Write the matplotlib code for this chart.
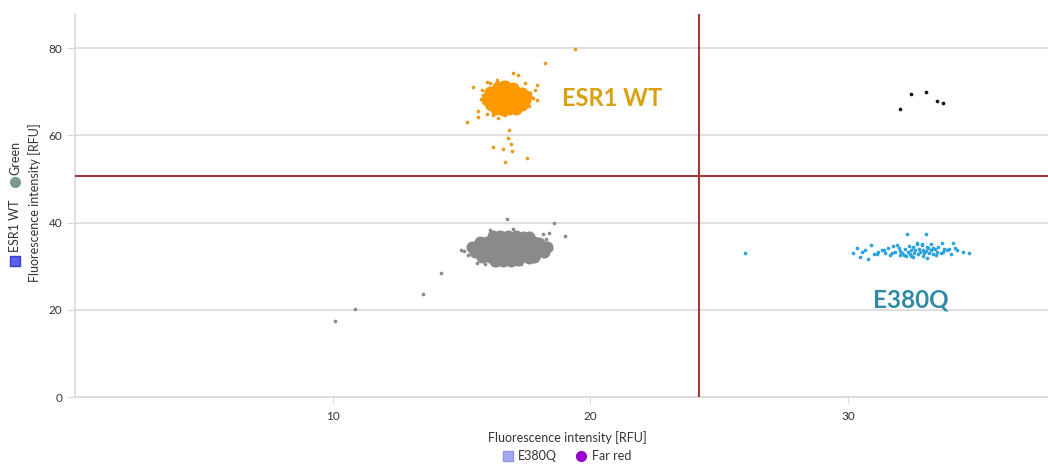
import matplotlib
matplotlib.use("Agg")
import matplotlib.pyplot as plt
from matplotlib.lines import Line2D

plt.rcParams['font.family'] = ['Lato', 'DejaVu Sans']

# ---------------- data ----------------
# ESR1 WT (orange) dense core
wt_core_x = [16.4, 16.7, 17.0,
             16.1, 16.35, 16.6, 16.85, 17.1, 17.35,
             16.05, 16.3, 16.55, 16.8, 17.05, 17.3, 17.5,
             16.0, 16.25, 16.5, 16.75, 17.0, 17.25, 17.45,
             16.15, 16.4, 16.65, 16.9, 17.15, 17.35,
             16.35, 16.6, 16.85, 17.1]
wt_core_y = [71.0, 71.2, 70.9,
             70.0, 70.1, 69.9, 70.2, 70.0, 69.8,
             69.0, 69.1, 68.9, 69.0, 69.2, 68.9, 69.0,
             68.0, 67.9, 68.1, 68.0, 67.9, 68.1, 68.0,
             67.0, 67.1, 66.9, 67.0, 67.1, 67.0,
             66.0, 65.9, 66.1, 66.0]
# ESR1 WT scattered points
wt_x = [19.4, 18.25, 17.0, 17.2, 15.43, 15.22, 15.65, 15.63, 15.97, 16.82,
        16.79, 16.92, 16.23, 16.62, 16.95, 16.69, 17.55, 17.92, 17.85, 17.92,
        17.78, 17.66, 16.1, 16.36, 16.56, 15.84, 15.91, 15.97, 16.23, 16.43,
        16.69, 16.88, 17.45, 17.6, 15.75, 15.8, 16.0]
wt_y = [79.8, 76.6, 74.2, 73.8, 71.0, 63.1, 64.1, 65.6, 64.9, 61.3,
        59.4, 58.1, 57.2, 56.8, 56.5, 53.9, 54.8, 71.5, 70.4, 68.1,
        68.5, 69.6, 71.9, 72.7, 72.3, 69.2, 67.7, 66.5, 64.6, 63.9,
        64.6, 65.4, 72.0, 66.8, 68.4, 70.3, 72.2]

# Negative population (grey) dense core
neg_core_x = [16.2, 16.5, 16.8, 17.1, 17.4, 17.6,
              15.7, 16.0, 16.3, 16.6, 16.9, 17.2, 17.5, 17.8, 18.0,
              15.4, 15.7, 16.0, 16.3, 16.6, 16.9, 17.2, 17.5, 17.8, 18.1, 18.3,
              15.5, 15.8, 16.1, 16.4, 16.7, 17.0, 17.3, 17.6, 17.9, 18.2,
              15.8, 16.1, 16.4, 16.7, 17.0, 17.3, 17.6, 17.8,
              16.3, 16.6, 16.9, 17.2]
neg_core_y = [36.8, 36.9, 37.0, 36.8, 36.7, 36.6,
              35.6, 35.5, 35.7, 35.6, 35.5, 35.6, 35.7, 35.5, 35.4,
              34.4, 34.3, 34.5, 34.4, 34.3, 34.5, 34.4, 34.3, 34.5, 34.4, 34.3,
              33.2, 33.1, 33.3, 33.2, 33.1, 33.2, 33.3, 33.2, 33.1, 33.3,
              32.0, 32.1, 31.9, 32.0, 32.1, 32.0, 31.9, 32.2,
              31.2, 31.1, 31.2, 31.3]
# Negative population scattered points
neg_x = [14.98, 15.1, 16.1, 16.17, 17.0, 17.66, 18.16, 18.4, 18.28, 18.3,
         15.59, 15.91, 16.36, 16.95, 16.75, 18.6, 19.0, 14.2, 13.49, 10.87,
         10.08, 15.25, 18.45, 17.3]
neg_y = [33.7, 33.5, 38.3, 37.5, 38.5, 37.7, 37.4, 37.7, 36.2, 35.3,
         30.8, 30.5, 30.3, 30.6, 40.7, 39.8, 37.0, 28.5, 23.7, 20.1,
         17.5, 32.6, 34.0, 30.6]

# E380Q (blue)
mut_x = [30.2, 30.33, 30.46, 30.66, 30.78, 30.88, 30.98, 31.17, 31.3, 31.43,
         31.56, 31.62, 31.75, 31.82, 31.95, 32.01, 32.27, 33.0, 32.66, 32.85,
         33.05, 33.3, 33.63, 33.69, 33.82, 34.08, 34.15, 34.21, 34.45, 34.67,
         33.05, 32.53,
         32.0, 32.1, 32.2, 32.3, 32.4, 32.45, 32.5, 32.55, 32.6, 32.7,
         32.75, 32.8, 32.9, 32.95, 33.0, 33.1, 33.15, 33.2, 33.3, 33.35,
         33.45, 33.5, 32.35, 32.65, 32.85, 33.2, 31.9, 32.15, 33.6, 33.7,
         31.4, 31.7, 32.25, 32.45, 32.9, 33.4, 33.9, 34.0, 31.1, 30.55,
         26.0]
mut_y = [33.1, 34.1, 32.2, 33.7, 31.6, 34.8, 32.8, 33.3, 33.7, 32.9,
         34.1, 32.5, 34.6, 33.3, 34.1, 32.5, 37.4, 37.4, 35.4, 34.8,
         34.5, 34.1, 35.2, 33.3, 33.7, 35.2, 34.1, 33.7, 33.3, 32.9,
         31.8, 32.2,
         33.5, 33.0, 34.0, 33.3, 32.8, 33.8, 34.3, 33.1, 33.6, 32.7,
         34.0, 33.3, 33.8, 32.9, 33.5, 34.2, 33.0, 33.6, 32.8, 33.9,
         33.3, 34.4, 34.6, 35.0, 35.0, 35.0, 34.8, 32.6, 32.9, 34.0,
         33.6, 33.0, 32.4, 32.3, 32.4, 32.6, 33.9, 32.8, 32.7, 33.2,
         33.0]

# Double positive (black)
dp_x = [32.0, 32.44, 33.0, 33.45, 33.68]
dp_y = [66.0, 69.5, 70.0, 67.8, 67.5]

x_thr = 24.2
y_thr = 50.7
x_ticks = [10, 20, 30]
y_ticks = [0, 20, 40, 60, 80]
axis_label = "Fluorescence intensity [RFU]"

# ---------------- figure ----------------
fig = plt.figure(figsize=(10.48, 4.67), dpi=100)
ax = fig.add_axes([75/1048, 70/467, 1 - 75/1048, (397-14)/467])
ax.set_xlim(0, 37.75)
ax.set_ylim(0, 87.8)

grid_c = '#d9d9d9'
for sp in ['top', 'right']:
    ax.spines[sp].set_visible(False)
for sp in ['left', 'bottom']:
    ax.spines[sp].set_color(grid_c)
    ax.spines[sp].set_linewidth(1.2)

ax.set_yticks(y_ticks)
ax.set_xticks(x_ticks)
ax.yaxis.grid(True, color=grid_c, linewidth=1.2)
ax.set_axisbelow(True)
ax.tick_params(axis='y', length=6, color=grid_c, labelsize=8.5, labelcolor='#333333', pad=3)
ax.tick_params(axis='x', length=4, color=grid_c, labelsize=8.5, labelcolor='#333333', pad=6)

grey = '#8a8a8a'
blue = '#2ba3df'

ax.scatter(neg_core_x, neg_core_y, s=75, color=grey, linewidths=0, zorder=3)
ax.scatter(neg_x, neg_y, s=7, color=grey, linewidths=0, zorder=3)
ax.scatter(wt_core_x, wt_core_y, s=75, color='#ff9900', linewidths=0, zorder=3)
ax.scatter(wt_x, wt_y, s=7, color='#eb9a14', linewidths=0, zorder=3)
ax.scatter(mut_x, mut_y, s=7, color=blue, linewidths=0, zorder=3)
ax.scatter(dp_x, dp_y, s=7, color='#111111', linewidths=0, zorder=3)

ax.axvline(x_thr, color='#a33a3a', linewidth=1.5, zorder=4)
ax.axhline(y_thr, color='#a33a3a', linewidth=1.5, zorder=4)

ax.text(18.9, 68.5, "ESR1 WT", color='#d9a010', fontsize=17, fontweight='bold',
        ha='left', va='center', zorder=5)
ax.text(30.95, 22.2, "E380Q", color='#2f8aa8', fontsize=17.5, fontweight='bold',
        ha='left', va='center', zorder=5)

# axis labels
fig.text(567/1048, 1 - 438/467, axis_label, ha='center', va='center',
         fontsize=9, color='#333333')
fig.text(35/1048, 1 - 203/467, axis_label, ha='center', va='center',
         fontsize=9, color='#333333', rotation=90)

# bottom legend (manual)
fig.add_artist(Line2D([508/1048], [1 - 456/467], marker='s', markersize=7,
                      color='#a3a9f2', markeredgecolor='#8f96e8', transform=fig.transFigure))
fig.text(518/1048, 1 - 456/467, "E380Q", ha='left', va='center', fontsize=9, color='#333333')
fig.add_artist(Line2D([581/1048], [1 - 456/467], marker='o', markersize=7,
                      color='#9900cc', transform=fig.transFigure))
fig.text(592/1048, 1 - 456/467, "Far red", ha='left', va='center', fontsize=9, color='#333333')

# left rotated legend (manual)
fig.add_artist(Line2D([15/1048], [1 - 261/467], marker='s', markersize=7,
                      color='#5b5ff0', markeredgecolor='#3a3ec8', transform=fig.transFigure))
fig.text(15/1048, 1 - 252/467, "ESR1 WT", ha='center', va='bottom', fontsize=9,
         color='#333333', rotation=90)
fig.add_artist(Line2D([15/1048], [1 - 182/467], marker='o', markersize=7,
                      color='#7d9a88', transform=fig.transFigure))
fig.text(15/1048, 1 - 175/467, "Green", ha='center', va='bottom', fontsize=9,
         color='#333333', rotation=90)

fig.savefig("out.png", dpi=100)
